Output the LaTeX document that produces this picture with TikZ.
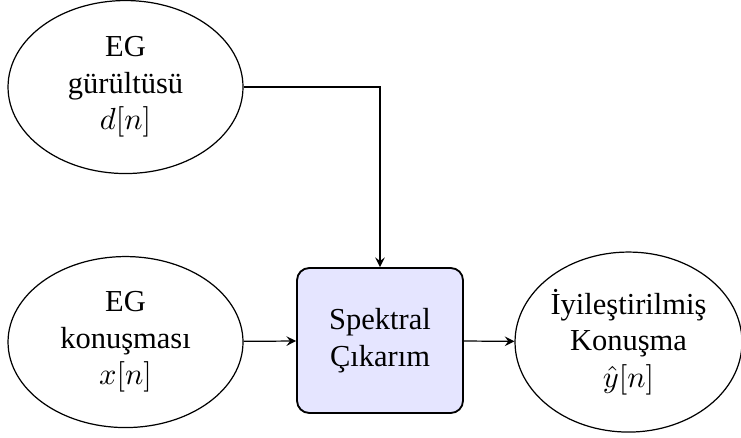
\documentclass[tikz,border=0pt]{standalone}
\usepackage{amsmath,amssymb}
\usepackage{fontspec}
\setmainfont{Liberation Serif}
\usepackage{xcolor}
\usetikzlibrary{shapes.geometric,arrows}

\tikzset{
  signal/.style={draw,ellipse,align=center,inner sep=0pt},
  block/.style={draw,semithick,rounded corners=4pt,fill=blue!10,align=center,
    minimum width=1.912cm,minimum height=1.67cm}
}

\begin{document}
\begin{tikzpicture}[>=stealth]
  \useasboundingbox (0,0) rectangle (8.537,5.035);
  \node[signal,minimum width=2.707cm,minimum height=1.993cm] (noise) at (1.446,4.032)
    {EG\\gürültüsü\\$d[n]$};
  \node[signal,minimum width=2.707cm,minimum height=1.97cm] (speech) at (1.446,1.094)
    {EG\\konuşması\\$x[n]$};
  \node[block] (sub) at (4.378,1.112) {Spektral\\Çıkarım};
  \node[signal,minimum width=2.615cm,minimum height=2.074cm] (out) at (7.241,1.094)
    {İyileştirilmiş\\Konuşma\\$\hat{y}[n]$};
  \draw[->] (noise.east) -| (sub.north);
  \draw[->] (speech) -- (sub);
  \draw[->] (sub) -- (out);
\end{tikzpicture}
\end{document}
